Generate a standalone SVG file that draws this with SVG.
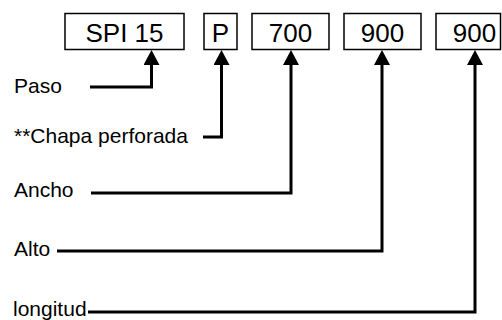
<svg xmlns="http://www.w3.org/2000/svg" width="502" height="320" viewBox="0 0 502 320">
<style>
.box{fill:#fff;stroke:#000;stroke-width:1.5}
.bt{font-family:"Liberation Sans",Arial,sans-serif;font-size:26px;fill:#000;text-anchor:middle}
.lt{font-family:"Liberation Sans",Arial,sans-serif;font-size:21px;fill:#000}
.con{fill:none;stroke:#000;stroke-width:3;marker-end:url(#ah)}
</style>
<defs>
<marker id="ah" markerUnits="userSpaceOnUse" markerWidth="16" markerHeight="16" refX="0" refY="8" orient="auto" viewBox="0 0 16 16">
<path d="M0,0 L15,8 L0,16 z" fill="#000"/>
</marker>
</defs>
<rect width="502" height="320" fill="#fff"/>
<g id="connectors">
<path class="con" d="M90,87 H151.5 V65"/>
<path class="con" d="M203,137 H221.5 V65"/>
<path class="con" d="M91,193 H291 V65"/>
<path class="con" d="M57,251 H382 V65"/>
<path class="con" d="M88,312 H475 V65"/>
</g>
<g id="box-spi15"><rect class="box" x="65" y="13.5" width="119" height="36"/><text class="bt" x="124.5" y="42">SPI 15</text></g>
<g id="box-p"><rect class="box" x="204" y="13.5" width="33" height="36"/><text class="bt" x="220.5" y="42">P</text></g>
<g id="box-700"><rect class="box" x="252" y="13.5" width="77" height="36"/><text class="bt" x="290.5" y="42">700</text></g>
<g id="box-900a"><rect class="box" x="344" y="13.5" width="77" height="36"/><text class="bt" x="382.5" y="42">900</text></g>
<g id="box-900b"><rect class="box" x="436" y="13.5" width="64.5" height="36"/><text class="bt" x="474.5" y="42">900</text></g>
<g id="label-paso"><text class="lt" x="14" y="93">Paso</text></g>
<g id="label-chapa"><text class="lt" x="14" y="143">**Chapa perforada</text></g>
<g id="label-ancho"><text class="lt" x="14" y="197">Ancho</text></g>
<g id="label-alto"><text class="lt" x="14" y="256">Alto</text></g>
<g id="label-longitud"><text class="lt" x="13" y="316">longitud</text></g>
</svg>
